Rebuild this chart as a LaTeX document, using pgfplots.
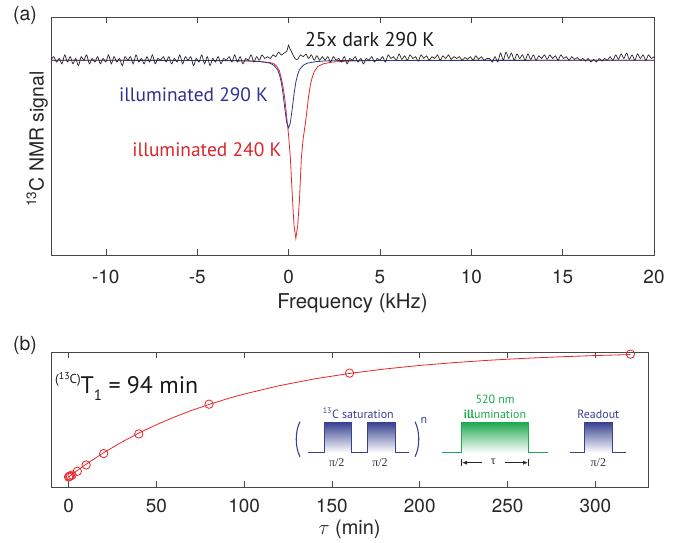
\documentclass[border=0pt]{standalone}
\usepackage{pgfplots}
\pgfplotsset{compat=1.18}
\usepackage{fontspec}
\setmainfont{TeX Gyre Heros}
\newfontfamily\myr{PT Sans}
\newfontfamily\tms{Liberation Serif}
\usetikzlibrary{arrows.meta}
\definecolor{myred}{RGB}{232,38,42}
\definecolor{myblue}{RGB}{43,57,144}
\definecolor{txtblue}{RGB}{46,49,146}
\definecolor{txtred}{RGB}{218,37,41}
\definecolor{mygreen}{RGB}{30,168,80}
\definecolor{framec}{RGB}{70,70,70}
\definecolor{pulseblue}{RGB}{55,65,145}
\begin{document}
\begin{tikzpicture}[x=1bp,y=1bp]
\pgfplotsset{
  myaxis/.style={
    scale only axis, anchor=south west,
    ytick=\empty, tick align=inside, major tick length=6bp,
    axis line style={framec, line width=0.6bp},
    every tick/.style={framec, line width=0.6bp},
    tick label style={font=\fontsize{19}{19}\selectfont, text=black!85},
    /pgf/number format/assume math mode=true,
  }
}
% ---------------- (a) ----------------
\begin{axis}[myaxis,
  at={(51bp,288bp)}, width=603bp, height=238bp,
  xmin=-13, xmax=20, ymin=-1.094, ymax=0.243,
  xtick={-10,-5,0,5,10,15,20},
  xticklabel style={anchor=base, yshift=-28.3bp},
  xlabel={Frequency (kHz)},
  xlabel style={at={([yshift=-54bp]axis description cs:0.5,0)}, anchor=base, font=\fontsize{20.5}{20.5}\selectfont, text=black!85},
  ylabel={\textsuperscript{13}C NMR signal},
  ylabel style={at={([xshift=-7.5bp]axis description cs:0,0.487)}, anchor=base, font=\fontsize{19.5}{19.5}\selectfont, text=black!85},
]
\addplot[myred, line width=0.8bp] coordinates {
(-13,0) (-5,-0.001) (-3,-0.003) (-2,-0.005) (-1.5,-0.008) (-1,-0.013) (-0.8,-0.02) (-0.7,-0.028) (-0.6,-0.04) (-0.5,-0.06) (-0.4,-0.1) (-0.3,-0.15) (-0.2,-0.22) (-0.1,-0.32) (0,-0.42) (0.1,-0.55) (0.2,-0.75) (0.3,-0.93) (0.4,-1.0) (0.5,-0.93) (0.6,-0.78) (0.7,-0.55) (0.8,-0.44) (0.9,-0.37) (1.0,-0.29) (1.1,-0.2) (1.2,-0.135) (1.3,-0.095) (1.4,-0.065) (1.6,-0.035) (1.9,-0.02) (2.4,-0.01) (3.4,-0.004) (5,-0.001) (20,0)
};
\addplot[myblue, line width=0.8bp] coordinates {
(-13,0) (-3,-0.0015) (-2,-0.004) (-1.5,-0.008) (-1,-0.017) (-0.8,-0.029) (-0.6,-0.053) (-0.5,-0.08) (-0.4,-0.122) (-0.3,-0.19) (-0.2,-0.274) (-0.1,-0.35) (0,-0.38) (0.1,-0.35) (0.2,-0.274) (0.3,-0.19) (0.4,-0.122) (0.5,-0.08) (0.6,-0.053) (0.8,-0.029) (1,-0.017) (1.5,-0.008) (2,-0.004) (3,-0.0015) (20,0)
};
\addplot[black!85, line width=0.7bp, smooth, tension=0.5] coordinates {
(-13,0.00) (-12.85,0.02) (-12.7,-0.01) (-12.55,0.01) (-12.4,-0.02) (-12.25,0.03) (-12.1,-0.01) (-11.95,0.02) (-11.8,-0.02) (-11.65,0.01) (-11.5,-0.03) (-11.35,0.02) (-11.2,0.00) (-11.05,0.03) (-10.9,-0.02) (-10.75,0.01) (-10.6,-0.01) (-10.45,0.02) (-10.3,-0.02) (-10.15,0.01)
(-10,-0.01) (-9.85,0.03) (-9.7,-0.02) (-9.55,0.02) (-9.4,-0.01) (-9.25,0.01) (-9.1,-0.03) (-8.95,0.02) (-8.8,0.00) (-8.65,0.02) (-8.5,-0.02) (-8.35,0.03) (-8.2,-0.01) (-8.05,0.01) (-7.9,-0.02) (-7.75,0.02) (-7.6,-0.01) (-7.45,0.03) (-7.3,-0.02) (-7.15,0.01)
(-7,0.00) (-6.85,0.02) (-6.7,-0.01) (-6.55,0.02) (-6.4,-0.02) (-6.25,0.01) (-6.1,-0.01) (-5.95,0.03) (-5.8,-0.02) (-5.65,0.02) (-5.5,0.00) (-5.35,0.02) (-5.2,-0.03) (-5.05,0.01) (-4.9,-0.01) (-4.75,0.03) (-4.6,-0.02) (-4.45,0.02) (-4.3,-0.03) (-4.15,0.01)
(-4,-0.01) (-3.85,0.02) (-3.7,-0.02) (-3.55,0.01) (-3.4,0.00) (-3.25,0.02) (-3.1,-0.01) (-2.95,0.03) (-2.8,-0.01) (-2.65,0.02) (-2.5,-0.02) (-2.35,0.01) (-2.2,0.00) (-2.05,0.03) (-1.9,-0.01) (-1.75,0.02) (-1.6,0.00) (-1.45,0.03) (-1.3,0.01) (-1.15,0.02)
(-1,0.01) (-0.85,0.03) (-0.7,0.02) (-0.55,0.045) (-0.4,0.03) (-0.25,0.04) (-0.1,0.05) (0,0.085) (0.05,0.07) (0.2,0.04) (0.35,0.01) (0.5,0.005) (0.65,0.03) (0.8,0.02) (0.95,0.035) (1.1,0.01) (1.25,0.03) (1.4,0.0) (1.55,0.025) (1.7,0.0) (1.85,0.02)
(2,0.00) (2.15,0.02) (2.3,-0.01) (2.45,0.02) (2.6,0.00) (2.75,0.01) (2.9,-0.01) (3.05,0.02) (3.2,-0.02) (3.35,0.01) (3.5,0.00) (3.65,0.02) (3.8,-0.01) (3.95,0.01) (4.1,-0.02) (4.25,0.01) (4.4,0.00) (4.55,0.02) (4.7,-0.01) (4.85,0.01)
(5,0.00) (5.15,0.02) (5.3,-0.01) (5.45,0.03) (5.6,0.01) (5.75,0.02) (5.9,0.00) (6.05,0.035) (6.2,0.005) (6.35,0.025) (6.5,0.00) (6.65,0.03) (6.8,0.01) (6.95,0.02) (7.1,-0.005) (7.25,0.03) (7.4,0.01) (7.55,0.025) (7.7,0.00) (7.85,0.02)
(8,0.01) (8.15,0.03) (8.3,0.00) (8.45,0.025) (8.6,0.01) (8.75,0.03) (8.9,0.005) (9.05,0.02) (9.2,0.01) (9.35,0.02) (9.5,0.00) (9.65,0.015) (9.8,0.005) (9.95,0.02) (10.1,0.00) (10.25,0.025) (10.4,0.005) (10.55,0.02) (10.7,0.00) (10.85,0.01)
(11,0.01) (11.15,-0.01) (11.3,0.02) (11.45,-0.01) (11.6,0.04) (11.75,0.00) (11.9,0.045) (12.05,0.01) (12.2,0.04) (12.35,0.00) (12.5,0.035) (12.65,0.01) (12.8,0.03) (12.95,0.00) (13.1,0.035) (13.25,0.005) (13.4,0.03) (13.55,0.00) (13.7,0.025) (13.85,0.01)
(14,0.03) (14.15,0.005) (14.3,0.03) (14.45,0.01) (14.6,0.025) (14.75,0.00) (14.9,0.03) (15.05,0.01) (15.2,0.02) (15.35,0.00) (15.5,0.02) (15.65,0.005) (15.8,0.015) (15.95,0.00) (16.1,0.01) (16.25,-0.005) (16.4,0.01) (16.55,-0.01) (16.7,0.005) (16.85,-0.01)
(17,0.01) (17.15,-0.005) (17.3,0.01) (17.45,0.00) (17.6,0.02) (17.75,0.00) (17.9,0.03) (18.05,0.005) (18.2,0.035) (18.35,0.01) (18.5,0.04) (18.65,0.005) (18.8,0.03) (18.95,0.00) (19.1,0.035) (19.25,0.01) (19.4,0.03) (19.55,0.00) (19.7,0.03) (19.85,0.01) (20,0.02)
};
\node[anchor=base west, inner sep=0, font=\myr\fontsize{20}{20}\selectfont, text=black!90] at (axis cs:0.89,0.076) {25x dark 290 K};
\node[anchor=base east, inner sep=0, font=\myr\fontsize{19.5}{19.5}\selectfont, text=txtblue] at (axis cs:-1.11,-0.233) {illuminated 290 K};
\node[anchor=base east, inner sep=0, font=\myr\fontsize{19.5}{19.5}\selectfont, text=txtred] at (axis cs:-0.38,-0.542) {illuminated 240 K};
\end{axis}
% ---------------- (b) ----------------
\begin{axis}[myaxis,
  at={(51bp,56bp)}, width=597bp, height=135bp,
  xmin=-10, xmax=330, ymin=-0.079, ymax=0.987,
  xtick={0,50,100,150,200,250,300},
  xticklabel style={anchor=base, yshift=-25.3bp},
  xlabel={$\tau$ (min)},
  xlabel style={at={([yshift=-47.3bp]axis description cs:0.5,0)}, anchor=base, font=\fontsize{20}{20}\selectfont, text=black!85},
]
\addplot[myred, line width=0.8bp] coordinates {
(0,0) (5,0.0518) (10,0.1009) (20,0.1917) (30,0.2732) (40,0.3466) (50,0.4125) (60,0.4718) (70,0.5251) (80,0.5731) (90,0.6161) (100,0.6549) (120,0.7210) (140,0.7745) (160,0.8177) (180,0.8527) (200,0.8809) (220,0.9037) (240,0.9222) (260,0.9371) (280,0.9491) (300,0.9589) (320,0.9668)
};
\addplot[only marks, mark=o, mark size=4.2bp, myred, mark options={line width=0.8bp}] coordinates {
(0,0) (0.5,0.005) (1,0.008) (2,0.015) (5,0.045) (10,0.095) (20,0.185) (40,0.34) (80,0.575) (160,0.82) (320,0.97)
};
\end{axis}
% panel letters
\node[font=\fontsize{19.5}{19.5}\selectfont, text=black!85] at (25,528) {(a)};
\node[font=\fontsize{19.5}{19.5}\selectfont, text=black!85] at (25,198) {(b)};
% T1 annotation
\node[anchor=base west, inner sep=0, font=\myr\fontsize{24}{24}\selectfont, text=black!90] at (55,149.7)
  {\raisebox{10bp}{\fontsize{13}{13}\selectfont (\raisebox{3.5bp}{\fontsize{10}{10}\selectfont 13}C)}T\raisebox{-7bp}{\fontsize{15}{15}\selectfont 1} = 94 min};
% pulse sequence: saturation
\draw[pulseblue, line width=1.1bp] (300,121.3) .. controls (295,112) and (295,95.6) .. (300,86.3);
\draw[pulseblue, line width=1.1bp] (415,121.3) .. controls (420,112) and (420,95.6) .. (415,86.3);
\node[font=\myr\fontsize{12}{12}\selectfont, text=pulseblue] at (424,122.3) {n};
\shade[top color=pulseblue, bottom color=white] (324.3,90.3) rectangle (351.7,120.7);
\shade[top color=pulseblue, bottom color=white] (367.3,90.3) rectangle (395,120.7);
\draw[pulseblue, line width=0.9bp] (308.3,90.3) -- (324.3,90.3) -- (324.3,120.7) -- (351.7,120.7) -- (351.7,90.3) -- (367.3,90.3) -- (367.3,120.7) -- (395,120.7) -- (395,90.3) -- (409,90.3);
\node[anchor=base, inner sep=0, font=\myr\fontsize{12}{12}\selectfont, text=pulseblue] at (358.3,124.7) {\textsuperscript{13}C saturation};
\node[font=\tms\fontsize{12}{12}\selectfont, text=black!80] at (336.7,80.5) {π/2};
\node[font=\tms\fontsize{12}{12}\selectfont, text=black!80] at (380,80.5) {π/2};
% illumination
\shade[top color=mygreen, bottom color=white] (461.7,90.3) rectangle (528.3,120.7);
\draw[mygreen, line width=0.9bp] (441.7,90.3) -- (461.7,90.3) -- (461.7,120.7) -- (528.3,120.7) -- (528.3,90.3) -- (548.3,90.3);
\node[anchor=base, inner sep=0, font=\myr\fontsize{12}{12}\selectfont, text=mygreen] at (495,139) {520 nm};
\node[anchor=base, inner sep=0, font=\myr\fontsize{12}{12}\selectfont, text=mygreen] at (495,124) {\textbf{ill}umination};
\draw[black!85, line width=0.7bp] (461.7,77) -- (461.7,83.6);
\draw[black!85, line width=0.7bp] (528.3,77) -- (528.3,83.6);
\draw[black!85, line width=0.7bp, -{Latex[length=5bp,width=4bp]}] (482,80.3) -- (462,80.3);
\draw[black!85, line width=0.7bp, -{Latex[length=5bp,width=4bp]}] (505,80.3) -- (528,80.3);
\node[font=\tms\fontsize{12}{12}\selectfont, text=black!85] at (493.3,81.5) {τ};
% readout
\shade[top color=pulseblue, bottom color=white] (584,90.3) rectangle (612.3,120.7);
\draw[pulseblue, line width=0.9bp] (570,90.3) -- (584,90.3) -- (584,120.7) -- (612.3,120.7) -- (612.3,90.3) -- (625.7,90.3);
\node[anchor=base, inner sep=0, font=\myr\fontsize{12}{12}\selectfont, text=pulseblue] at (598.3,124.7) {Readout};
\node[font=\tms\fontsize{12}{12}\selectfont, text=black!80] at (598.3,80.5) {π/2};
\pgfresetboundingbox
\path[use as bounding box] (0,0) rectangle (684,543);
\end{tikzpicture}
\end{document}
